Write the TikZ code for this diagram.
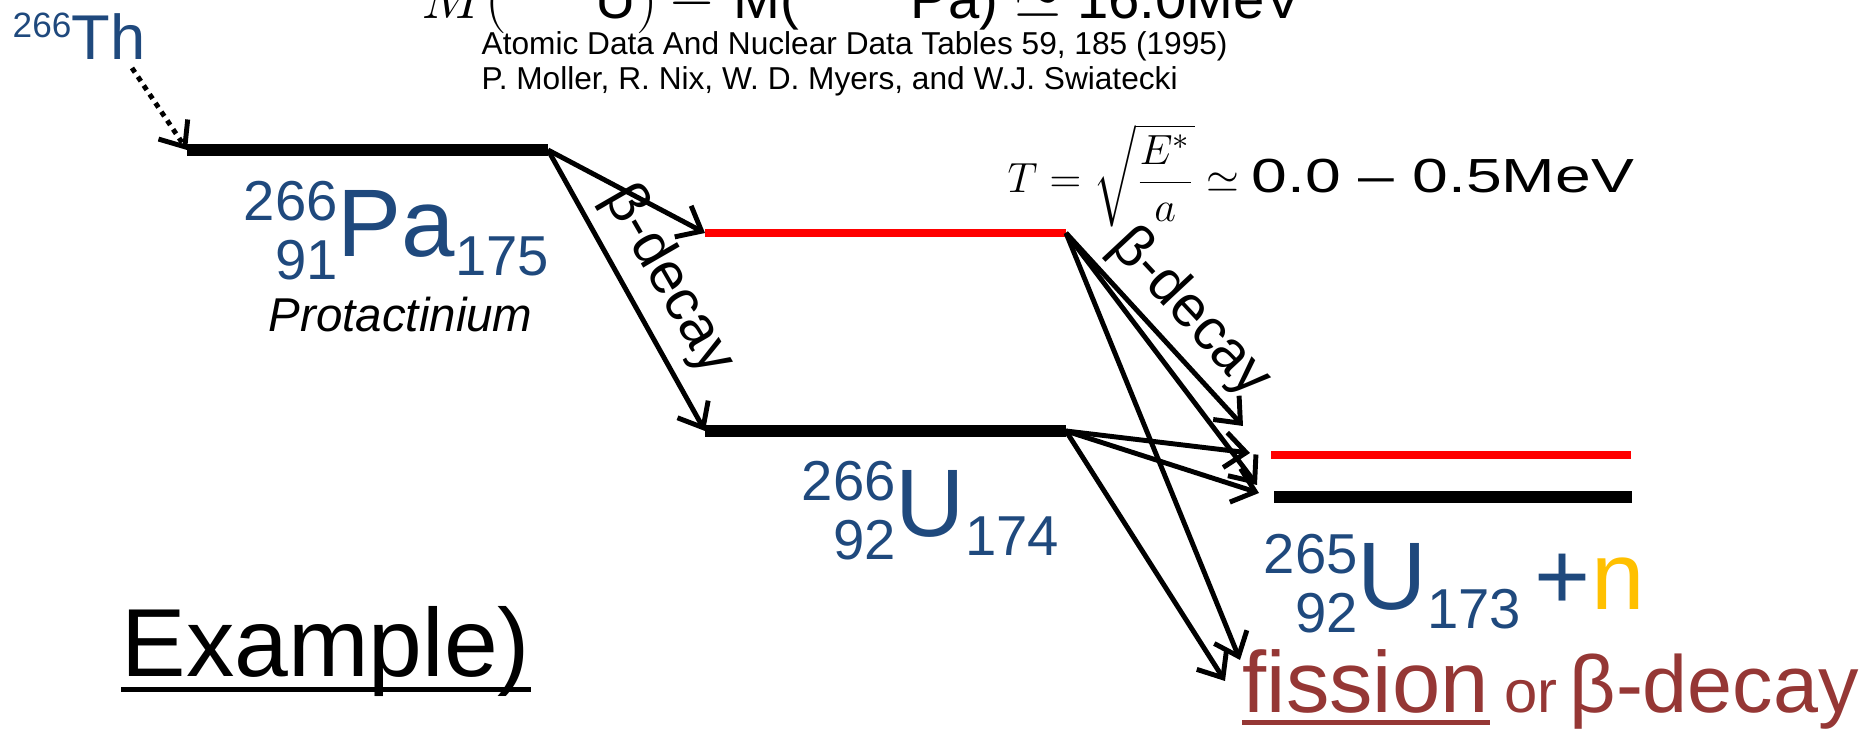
\documentclass[tikz,border=0pt]{standalone}
\usepackage{amsmath}
\usepackage{graphicx}
\usepackage{fontspec}
\setmainfont{Liberation Sans}
\usepackage{tikz}
\usetikzlibrary{arrows.meta,positioning}
\definecolor{nucblue}{HTML}{1F497D}
\definecolor{fisred}{HTML}{953735}
\definecolor{neutron}{HTML}{FFC000}
\newcommand{\nucsmall}{\fontsize{16}{16}\selectfont}
% mass number, charge, symbol, neutron number
\newcommand{\nuc}[4]{%
  \makebox[0pt][r]{\nucsmall\raisebox{10.5pt}{#1}}%
  \makebox[0pt][r]{\nucsmall\raisebox{-6.3pt}{#2}}%
  #3{\nucsmall\raisebox{-5.4pt}{#4}}}

\begin{document}
\begin{tikzpicture}[
    x=0.01cm, y=-0.01cm,
    level/.style={line width=3.4pt},
    excited/.style={line width=2.3pt, red},
    decay/.style={-{Straight Barb[length=6pt,width=10pt]}, line width=1.4pt},
    feed/.style={decay, dash pattern=on 1.5pt off 1.5pt},
    iso/.style={text=nucblue, font=\fontsize{27.3}{28}\selectfont, inner sep=0pt, anchor=base west},
    declabel/.style={font=\fontsize{16.5}{17}\selectfont, inner sep=0pt},
    ref/.style={font=\fontsize{9}{9}\selectfont, inner sep=0pt, anchor=base west},
    txt/.style={inner sep=0pt, anchor=base west},
    uline/.style={line width=1.4pt}
]
\useasboundingbox (0,0) rectangle (1871,731);
\clip (0,0) rectangle (1871,731);

% header
\node (qval) [txt, font=\fontsize{16}{16}\selectfont] at (421,19)
  {$M($\textsuperscript{266}\hspace{6pt}U$)$\hspace{3pt}$-$\hspace{5pt}M(\textsuperscript{266}\hspace{12.7pt}Pa) $\simeq$ 16.0MeV};
\node (ref1) [ref] at (481,55) {Atomic Data And Nuclear Data Tables 59, 185 (1995)};
\node (ref2) [ref] at (481,90) {P. Moller, R. Nix, W. D. Myers, and W.J. Swiatecki};
\node (temp) [txt, font=\fontsize{12.6}{13}\selectfont] at (1007,193)
  {$T=\sqrt{\dfrac{E^*}{a}}\simeq$ \scalebox{1.45}[1.08]{0.0 -- 0.5MeV}};

% levels
\coordinate (paL) at (187,150);  \coordinate (paR) at (548,150);
\coordinate (u6eL) at (705,233); \coordinate (u6eR) at (1066,233);
\coordinate (u6gL) at (705,431); \coordinate (u6gR) at (1066,431);
\coordinate (u5eL) at (1271,455); \coordinate (u5eR) at (1631,455);
\coordinate (u5gL) at (1274,497); \coordinate (u5gR) at (1632,497);
\draw [level] (paL) -- (paR);
\draw [excited] (u6eL) -- (u6eR);
\draw [level] (u6gL) -- (u6gR);
\draw [excited] (u5eL) -- (u5eR);
\draw [level] (u5gL) -- (u5gR);

% labels
\node (th) [txt, text=nucblue, font=\fontsize{18}{18}\selectfont] at (12,60)
  {\raisebox{6.5pt}{\fontsize{10}{10}\selectfont 266}Th};
\node (pa) [iso] at (337,257) {\nuc{266}{91}{Pa}{175}};
\node (paname) [txt, font=\fontsize{13.5}{14}\selectfont\itshape] at (268,332) {Protactinium};
\node (u6) [iso] at (895,537) {\nuc{266}{92}{U}{174}};
\node (u5) [iso] at (1357,610) {\nuc{265}{92}{U}{173}\hspace{4pt}+\textcolor{neutron}{n}};
\node (fis) [txt, text=fisred, font=\fontsize{24.7}{25}\selectfont] at (1242,713) {fission};
\node (fisor) [txt, text=fisred, font=\fontsize{17}{17}\selectfont] at ([xshift=4pt]fis.base east) {or};
\node (fisbeta) [txt, text=fisred, font=\fontsize{23}{23}\selectfont] at ([xshift=3pt]fisor.base east) {β-decay};
\draw [uline, fisred] ([yshift=-2.7pt]fis.base west) -- ([yshift=-2.7pt]fis.base east);
\node (ex) [txt, font=\fontsize{27.5}{28}\selectfont] at (121,677) {Example)};
\draw [uline] ([yshift=-3.5pt]ex.base west) -- ([yshift=-3.5pt]ex.base east);
\node (bd1) [declabel, rotate=-60] at (668,280) {β-decay};
\node (bd2) [declabel, rotate=-47] at (1190,313) {β-decay};

% transitions
\coordinate (thfoot) at (132,68);
\coordinate (tbd) at (1243,426);
\coordinate (t5e) at (1250,453);
\coordinate (t5g1) at (1257,485);
\coordinate (t5g2) at (1259,493);
\coordinate (tfis1) at (1240,660);
\coordinate (tfis2) at (1225,681);
\draw [feed] (thfoot) -- (paL);
\draw [decay] (paR) -- (u6eL);
\draw [decay] (paR) -- (u6gL);
\draw [decay] (u6eR) -- (tbd);
\draw [decay] (u6eR) -- (t5g1);
\draw [decay] (u6eR) -- (tfis1);
\draw [decay] (u6gR) -- (t5e);
\draw [decay] (u6gR) -- (t5g2);
\draw [decay] (u6gR) -- (tfis2);
\end{tikzpicture}
\end{document}
